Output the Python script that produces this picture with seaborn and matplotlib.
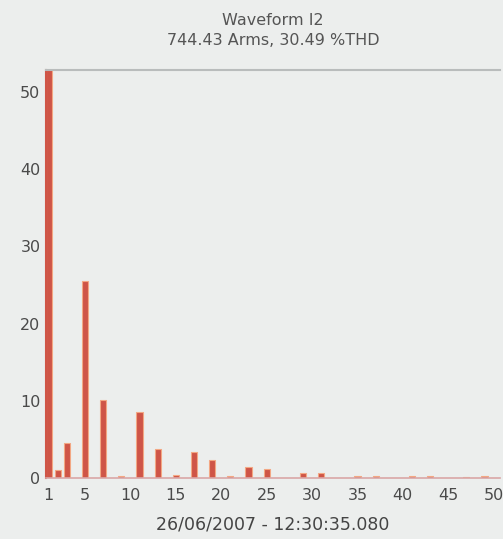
import numpy as np
import pandas as pd
import matplotlib
matplotlib.use("Agg")
import matplotlib.pyplot as plt
import seaborn as sns

# Data: harmonic order and magnitude (% of fundamental)
harmonics = list(range(1, 51))
magnitudes = [100, 1.0, 4.5, 0, 25.5, 0, 10.1, 0, 0.3, 0,
              8.5, 0, 3.8, 0, 0.4, 0, 3.4, 0, 2.3, 0,
              0.3, 0, 1.5, 0, 1.2, 0, 0, 0, 0.6, 0,
              0.6, 0, 0, 0, 0.3, 0, 0.3, 0, 0, 0,
              0.3, 0, 0.25, 0, 0, 0, 0.2, 0, 0.3, 0]
xticks = [1, 5, 10, 15, 20, 25, 30, 35, 40, 45, 50]
yticks = [0, 10, 20, 30, 40, 50]
title = "Waveform I2\n744.43 Arms, 30.49 %THD"
xlabel = "26/06/2007 - 12:30:35.080"

df = pd.DataFrame({"harmonic": harmonics, "value": magnitudes})

sns.set_theme(style="white")
plt.rcParams['font.family'] = ['DejaVu Sans']

bg = "#eceeed"
fig = plt.figure(figsize=(5.03, 5.39), dpi=100, facecolor=bg)
ax = fig.add_axes([0.0915, 0.113, 0.9025, 0.757])
ax.set_facecolor(bg)

sns.barplot(data=df, x="harmonic", y="value", native_scale=True, width=0.68,
            color="#cf5547", saturation=1, ax=ax, edgecolor="#f3a783", linewidth=0.8)

ax.set_xlim(0.7, 50.7)
ax.set_ylim(0, 52.8)
ax.set_xticks(xticks)
ax.set_yticks(yticks)
ax.tick_params(axis="both", labelsize=11.5, colors="#555555", length=0)
ax.tick_params(axis="x", pad=7)
ax.tick_params(axis="y", pad=4)
for lab in ax.get_xticklabels() + ax.get_yticklabels():
    lab.set_color("#4a4a4a")
    lab.set_fontweight("medium")

ax.spines["right"].set_visible(False)
ax.spines["top"].set_color("#b9bcbc")
ax.spines["top"].set_linewidth(1.5)
ax.spines["left"].set_color("#cf5547")
ax.spines["left"].set_linewidth(1.5)
ax.spines["bottom"].set_color("#d9a7a7")
ax.spines["bottom"].set_linewidth(1.2)

ax.set_title(title, fontsize=11.5, color="#555555", pad=18, linespacing=1.4)
ax.set_xlabel(xlabel, fontsize=12.5, color="#444444", labelpad=9)
ax.set_ylabel("")

fig.savefig("out.png", dpi=100, facecolor=bg)
